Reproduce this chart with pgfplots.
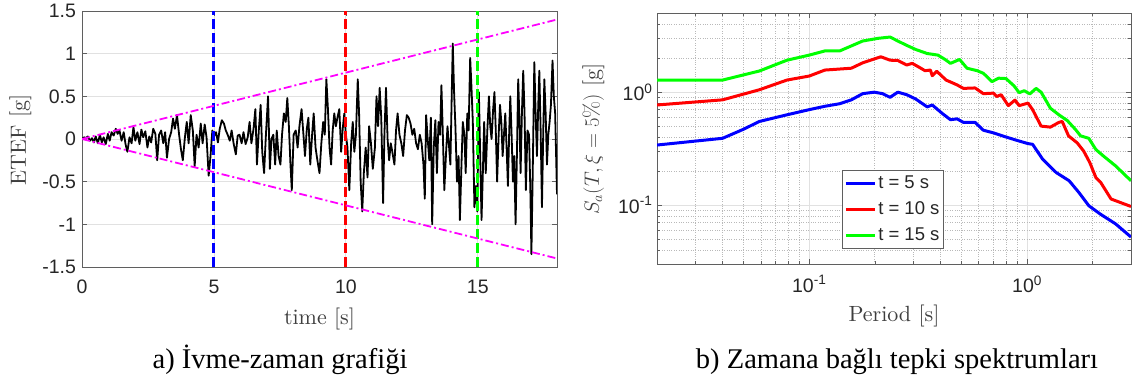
\documentclass[border=0pt]{standalone}
\usepackage{fontspec}
\usepackage{pgfplots}
\pgfplotsset{compat=1.18}
\newfontfamily\hv{Liberation Sans}
\newfontfamily\tms{Liberation Serif}
\newfontfamily\lmten{lmroman10-regular.otf}
\definecolor{axgray}{RGB}{95,95,95}
\definecolor{labgray}{RGB}{62,62,62}
\definecolor{tickblack}{RGB}{38,38,38}
\definecolor{gridgray}{RGB}{225,225,225}
\definecolor{mgridgray}{RGB}{185,185,185}
\definecolor{mag}{RGB}{255,0,255}

\pgfplotstableread{
t y
0.00 0.00
0.08 0.02
0.15 0.01
0.22 0.03
0.30 -0.02
0.38 0.01
0.45 -0.04
0.52 0.03
0.60 -0.05
0.68 0.05
0.75 -0.04
0.82 0.02
0.90 -0.06
0.98 0.06
1.05 -0.02
1.12 0.08
1.20 0.04
1.28 0.12
1.35 0.06
1.42 0.10
1.50 -0.02
1.58 0.08
1.65 -0.06
1.72 -0.15
1.80 0.02
1.88 -0.05
1.95 0.14
2.02 -0.02
2.10 0.08
2.18 -0.06
2.25 0.11
2.32 0.02
2.40 0.09
2.48 -0.10
2.55 0.03
2.62 -0.04
2.70 0.12
2.78 0.06
2.85 -0.25
2.92 0.05
3.00 0.10
3.08 -0.05
3.15 0.08
3.22 -0.22
3.30 0.00
3.38 0.08
3.45 0.24
3.52 0.12
3.60 0.28
3.68 0.05
3.75 -0.12
3.82 -0.25
3.90 0.02
3.97 0.20
4.04 -0.05
4.12 0.28
4.20 0.10
4.27 -0.32
4.34 0.05
4.42 -0.10
4.50 0.18
4.57 -0.05
4.65 0.17
4.72 0.02
4.80 -0.43
4.87 -0.20
4.94 0.10
5.00 0.03
5.08 0.08
5.15 -0.04
5.22 0.12
5.30 0.22
5.38 0.18
5.45 0.10
5.52 0.05
5.60 -0.02
5.67 0.10
5.75 -0.06
5.83 -0.18
5.90 0.04
5.97 0.05
6.05 -0.05
6.12 0.08
6.20 -0.06
6.28 0.02
6.35 0.20
6.42 -0.05
6.50 0.12
6.57 0.35
6.63 -0.30
6.70 0.10
6.77 0.40
6.83 -0.15
6.90 -0.40
6.97 0.05
7.05 0.50
7.12 -0.35
7.18 0.00
7.25 0.05
7.32 -0.30
7.38 0.10
7.45 -0.20
7.52 -0.30
7.58 0.05
7.65 0.30
7.72 0.20
7.78 0.48
7.84 0.15
7.90 -0.30
7.95 -0.60
8.02 0.05
8.10 0.10
8.17 -0.10
8.24 0.15
8.32 0.35
8.38 0.10
8.45 -0.20
8.52 0.12
8.58 0.25
8.65 -0.30
8.72 0.05
8.78 0.30
8.85 -0.10
8.92 -0.25
9.00 -0.40
9.07 -0.05
9.14 0.20
9.20 0.05
9.26 0.70
9.32 0.35
9.38 -0.10
9.44 -0.30
9.50 0.10
9.56 0.30
9.62 0.15
9.68 0.25
9.75 0.35
9.82 -0.15
9.88 0.12
9.94 0.30
10.00 0.05
10.06 -0.10
10.13 -0.60
10.20 -0.05
10.26 0.20
10.32 -0.15
10.38 0.05
10.45 0.70
10.50 0.30
10.56 -0.50
10.62 -0.85
10.68 -0.40
10.75 -0.10
10.82 -0.45
10.88 0.15
10.95 -0.05
11.02 -0.35
11.10 -0.10
11.16 0.50
11.22 0.15
11.28 0.60
11.34 0.25
11.41 -0.75
11.46 0.05
11.52 0.60
11.58 0.00
11.64 -0.25
11.70 -0.05
11.76 -0.15
11.84 -0.30
11.90 0.10
11.96 0.30
12.03 0.05
12.10 -0.05
12.17 -0.20
12.24 0.10
12.31 0.28
12.38 0.25
12.45 0.18
12.52 0.05
12.59 0.12
12.66 -0.05
12.73 -0.12
12.80 0.05
12.87 -0.05
12.94 -0.30
12.99 -0.70
13.04 0.28
13.10 0.00
13.16 -0.25
13.22 0.25
13.27 -1.00
13.33 -0.10
13.39 0.22
13.45 -0.40
13.51 0.20
13.57 0.05
13.62 0.63
13.67 0.10
13.73 -0.60
13.79 -0.20
13.85 0.15
13.90 -0.05
13.96 -0.30
14.01 0.50
14.05 1.12
14.10 0.55
14.15 0.15
14.21 -0.50
14.27 -0.20
14.32 -0.95
14.38 -0.30
14.43 0.20
14.49 0.05
14.54 -0.40
14.60 0.30
14.65 0.10
14.71 0.95
14.76 0.60
14.81 0.20
14.87 -0.80
14.93 -0.55
14.98 -0.85
15.04 0.55
15.09 -0.20
15.14 -0.95
15.19 -0.40
15.24 0.20
15.30 -0.40
15.36 0.10
15.42 0.50
15.47 0.15
15.52 0.00
15.58 0.35
15.63 0.55
15.68 0.10
15.73 -0.50
15.79 0.05
15.84 0.40
15.89 0.20
15.94 -0.20
15.99 0.05
16.04 0.30
16.09 -0.10
16.14 -0.55
16.19 0.10
16.23 0.50
16.28 0.05
16.33 -0.50
16.38 -0.20
16.43 -1.00
16.48 -0.20
16.53 0.70
16.58 0.20
16.62 -0.40
16.67 0.30
16.72 0.80
16.77 0.30
16.82 -0.60
16.88 0.10
16.94 0.05
16.99 -0.60
17.03 -1.35
17.08 -0.40
17.14 0.90
17.19 0.30
17.24 -0.20
17.29 0.40
17.33 0.80
17.38 0.10
17.43 -0.80
17.48 0.10
17.52 0.70
17.57 0.30
17.62 -0.30
17.67 0.05
17.72 0.20
17.77 0.40
17.83 0.92
17.88 0.50
17.93 0.30
18.00 -0.65
}\signal

\pgfplotstableread{
T S
0.02 0.34
0.04 0.39
0.05 0.47
0.059 0.55
0.079 0.63
0.1 0.70
0.118 0.75
0.138 0.79
0.156 0.855
0.176 0.97
0.199 1.0
0.217 0.97
0.235 0.90
0.255 1.0
0.28 0.95
0.308 0.87
0.348 0.74
0.367 0.77
0.407 0.65
0.445 0.57
0.477 0.58
0.51 0.54
0.577 0.54
0.63 0.46
0.70 0.436
0.77 0.41
0.89 0.376
1.01 0.35
1.06 0.345
1.18 0.254
1.36 0.194
1.56 0.164
1.73 0.129
1.92 0.0986
2.17 0.083
2.55 0.068
3.0 0.052
}\sfive

\pgfplotstableread{
T S
0.02 0.77
0.04 0.855
0.059 1.05
0.079 1.28
0.1 1.39
0.118 1.57
0.156 1.63
0.176 1.82
0.213 2.06
0.235 1.92
0.255 1.91
0.28 1.74
0.297 1.80
0.32 1.66
0.34 1.55
0.36 1.57
0.367 1.40
0.385 1.53
0.425 1.28
0.477 1.16
0.51 1.08
0.577 1.09
0.63 0.97
0.70 0.98
0.725 0.915
0.76 0.95
0.82 0.76
0.88 0.85
0.92 0.76
1.01 0.80
1.06 0.70
1.16 0.50
1.28 0.49
1.40 0.54
1.45 0.55
1.55 0.41
1.70 0.355
1.82 0.30
1.94 0.238
2.07 0.175
2.18 0.158
2.43 0.113
3.0 0.097
}\sten

\pgfplotstableread{
T S
0.02 1.28
0.04 1.28
0.059 1.54
0.079 1.92
0.1 2.13
0.118 2.32
0.138 2.32
0.176 2.84
0.207 3.0
0.235 3.08
0.255 2.84
0.28 2.6
0.308 2.39
0.348 2.2
0.39 2.13
0.42 1.95
0.445 1.80
0.49 1.95
0.53 1.63
0.59 1.55
0.63 1.47
0.69 1.24
0.74 1.33
0.80 1.32
0.87 1.14
0.92 0.99
0.97 1.03
1.03 0.965
1.10 1.08
1.16 1.0
1.28 0.72
1.40 0.63
1.53 0.56
1.67 0.466
1.76 0.41
1.92 0.39
2.07 0.31
2.25 0.27
2.55 0.222
3.0 0.164
}\sfifteen

\begin{document}
\begin{tikzpicture}
\useasboundingbox (0,0) rectangle (1133pt,380pt);
\pgfplotsset{
  common/.style={
    scale only axis,
    tick align=inside,
    major tick length=5pt,
    minor tick length=3pt,
    axis line style={axgray, line width=0.8pt},
    every tick/.style={axgray, line width=0.6pt},
    major grid style={gridgray, line width=0.8pt},
    ticklabel style={font=\hv\fontsize{19.5}{19.5}\selectfont, text=tickblack},
    label style={font=\lmten\fontsize{22}{22}\selectfont, text=labgray},
  }
}
% ---------- left: acceleration record ----------
\begin{axis}[common,
  at={(82pt,113pt)}, anchor=south west,
  width=475pt, height=256pt,
  xmin=0, xmax=18, ymin=-1.5, ymax=1.5,
  xtick={0,5,10,15}, xticklabels={0,5,10,15},
  ytick={-1.5,-1,-0.5,0,0.5,1,1.5},
  yticklabels={-1.5,-1,-0.5,0,0.5,1,1.5},
  xmajorgrids, ymajorgrids,
  xticklabel style={yshift=-9.5pt},
  yticklabel style={xshift=-2.5pt},
  xlabel={time [s]}, ylabel={ETEF [g]},
  xlabel style={at={(axis description cs:0.5,-0.2227)}, anchor=base},
  ylabel style={at={(axis description cs:-0.1295,0.496)}, anchor=center},
]
\addplot[black, line width=1.8pt, line join=round] table[x=t,y=y] {\signal};
\addplot[blue, line width=3pt, dash pattern=on 10pt off 4pt] coordinates {(5,-1.5) (5,1.5)};
\addplot[red, line width=3pt, dash pattern=on 10pt off 4pt] coordinates {(10,-1.5) (10,1.5)};
\addplot[green, line width=3pt, dash pattern=on 10pt off 4pt] coordinates {(15,-1.5) (15,1.5)};
\addplot[mag, line width=1.8pt, dash pattern=on 8pt off 3pt on 2pt off 3pt] coordinates {(0,0) (18,1.4)};
\addplot[mag, line width=1.8pt, dash pattern=on 8pt off 3pt on 2pt off 3pt] coordinates {(0,0) (18,-1.4)};
\end{axis}
% ---------- right: response spectra ----------
\begin{axis}[common,
  at={(657pt,116pt)}, anchor=south west,
  width=474pt, height=250.7pt,
  xmode=log, ymode=log,
  xmin=0.02, xmax=3, ymin=0.03, ymax=5,
  xtick={0.1,1}, xticklabels={10\textsuperscript{-1},10\textsuperscript{0}},
  ytick={0.1,1}, yticklabels={10\textsuperscript{-1},10\textsuperscript{0}},
  minor xtick={0.03,0.04,0.05,0.06,0.07,0.08,0.09,0.2,0.3,0.4,0.5,0.6,0.7,0.8,0.9,2,3},
  minor ytick={0.04,0.05,0.06,0.07,0.08,0.09,0.2,0.3,0.4,0.5,0.6,0.7,0.8,0.9,2,3,4},
  xmajorgrids, ymajorgrids, xminorgrids, yminorgrids,
  minor grid style={mgridgray, dotted, line width=0.7pt},
  xticklabel style={yshift=-8pt},
  yticklabel style={xshift=-1pt},
  xlabel={Period [s]}, ylabel={$S_a(T,\xi=5\%)$ [g]},
  xlabel style={at={(axis description cs:0.5,-0.231)}, anchor=base},
  ylabel style={at={(axis description cs:-0.134,0.4986)}, anchor=center},
  legend cell align=left,
  legend image code/.code={\draw[#1, line width=3pt] (0pt,0pt) -- (29pt,0pt);},
  legend style={at={(axis description cs:0.39,0.06)}, anchor=south west,
    draw=axgray, line width=0.8pt, fill=white,
    font=\hv\fontsize{18.5}{18.5}\selectfont, text=tickblack,
    inner xsep=2pt, inner ysep=3pt, row sep=6pt, column sep=0pt,
    nodes={inner sep=2pt, text height=13pt, text depth=3pt}},
]
\addplot[blue, line width=3pt, line join=round] table[x=T,y=S] {\sfive};
\addlegendentry{t = 5 s}
\addplot[red, line width=3pt, line join=round] table[x=T,y=S] {\sten};
\addlegendentry{t = 10 s}
\addplot[green, line width=3pt, line join=round] table[x=T,y=S] {\sfifteen};
\addlegendentry{t = 15 s}
\end{axis}
\node[font=\tms\fontsize{28.5}{30}\selectfont, anchor=base] at (280pt,11pt) {a) İvme-zaman grafiği};
\node[font=\tms\fontsize{28.5}{30}\selectfont, anchor=base] at (897pt,11pt) {b) Zamana bağlı tepki spektrumları};
\end{tikzpicture}
\end{document}
